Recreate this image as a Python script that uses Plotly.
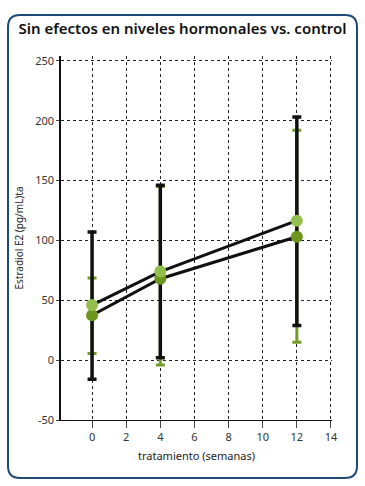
import plotly.graph_objects as go

# ---- data ----
weeks = [0, 4, 12]
# series with black error bars (light green markers)
light_vals = [46, 74, 116.5]
light_err_plus = [61, 72, 86.5]
light_err_minus = [62, 72, 87.5]
# series with green error bars (dark green markers)
dark_vals = [37.5, 68, 103]
dark_err_plus = [31, 77, 89]
dark_err_minus = [32, 72, 88]

x_ticks = [0, 2, 4, 6, 8, 10, 12, 14]
y_ticks = [-50, 0, 50, 100, 150, 200, 250]

title_text = "Sin efectos en niveles hormonales vs. control"
x_title = "tratamiento (semanas)"
y_title = "Estradiol E2 (pg/mL)ta"

LIGHT = "#93bf4c"
DARK = "#6c961c"
CAP_GREEN = "#739b26"
FONT = "Noto Sans"

W, H = 365, 486
L, R, T, B = 61, 33, 56, 66

fig = go.Figure()

# green error bars (drawn first, underneath)
fig.add_trace(go.Scatter(
    x=weeks, y=dark_vals, mode="markers",
    marker=dict(size=1, opacity=0),
    error_y=dict(type="data", symmetric=False, array=dark_err_plus,
                 arrayminus=dark_err_minus, color=CAP_GREEN,
                 thickness=3, width=4.5),
    hoverinfo="skip", showlegend=False))
# black error bars
fig.add_trace(go.Scatter(
    x=weeks, y=light_vals, mode="markers",
    marker=dict(size=1, opacity=0),
    error_y=dict(type="data", symmetric=False, array=light_err_plus,
                 arrayminus=light_err_minus, color="#111111",
                 thickness=3.5, width=4.5),
    hoverinfo="skip", showlegend=False))
# lines + markers
fig.add_trace(go.Scatter(
    x=weeks, y=dark_vals, mode="lines+markers",
    line=dict(color="#111111", width=3),
    marker=dict(color=DARK, size=12),
    showlegend=False))
fig.add_trace(go.Scatter(
    x=weeks, y=light_vals, mode="lines+markers",
    line=dict(color="#111111", width=3),
    marker=dict(color=LIGHT, size=12),
    showlegend=False))

# rounded border (pixel -> paper conversion)
pw, ph = W - L - R, H - T - B
def px(x):
    return (x - L) / pw
def py(y):
    return (H - B - y) / ph
x0, x1, y0, y1, r = 8, 357, 15, 478, 12
path = (f"M {px(x0 + r)} {py(y0)} L {px(x1 - r)} {py(y0)} "
        f"Q {px(x1)} {py(y0)} {px(x1)} {py(y0 + r)} "
        f"L {px(x1)} {py(y1 - r)} Q {px(x1)} {py(y1)} {px(x1 - r)} {py(y1)} "
        f"L {px(x0 + r)} {py(y1)} Q {px(x0)} {py(y1)} {px(x0)} {py(y1 - r)} "
        f"L {px(x0)} {py(y0 + r)} Q {px(x0)} {py(y0)} {px(x0 + r)} {py(y0)} Z")
fig.add_shape(type="path", path=path, xref="paper", yref="paper",
              line=dict(color="#1e4a78", width=2), layer="below")

fig.update_layout(
    width=W, height=H,
    margin=dict(l=L, r=R, t=T, b=B),
    paper_bgcolor="white", plot_bgcolor="white",
    font=dict(family=FONT, color="#333333", size=11),
    title=dict(text=title_text, x=0.5, xanchor="center",
               y=1 - 29 / H, yanchor="middle",
               font=dict(family="Noto Sans", size=15,
                         color="#111111", weight=600)),
    showlegend=False,
)
fig.update_xaxes(
    range=[-1.82, 14.06], tickvals=x_ticks, ticktext=[str(v) for v in x_ticks],
    showgrid=True, gridcolor="#222222", griddash="dot", gridwidth=1,
    zeroline=False, showline=True, linecolor="#111111", linewidth=1,
    ticks="outside", ticklen=7, tickcolor="#444444",
    tickfont=dict(size=11, color="#333333"),
    title=dict(text=x_title, font=dict(size=11, color="#222222"), standoff=9),
)
fig.update_yaxes(
    range=[-50, 254], tickvals=y_ticks, ticktext=[str(v) for v in y_ticks],
    showgrid=True, gridcolor="#222222", griddash="dot", gridwidth=1,
    zeroline=False, showline=True, linecolor="#111111", linewidth=1.5,
    ticks="outside", ticklen=3, tickcolor="#444444",
    tickfont=dict(size=11, color="#333333"),
    title=dict(text=y_title, font=dict(size=10, color="#222222"), standoff=10),
)

fig.write_html("out.html", config={"displayModeBar": False},
               post_script="document.body.style.margin='0';"
                           "document.body.style.overflow='hidden';")
